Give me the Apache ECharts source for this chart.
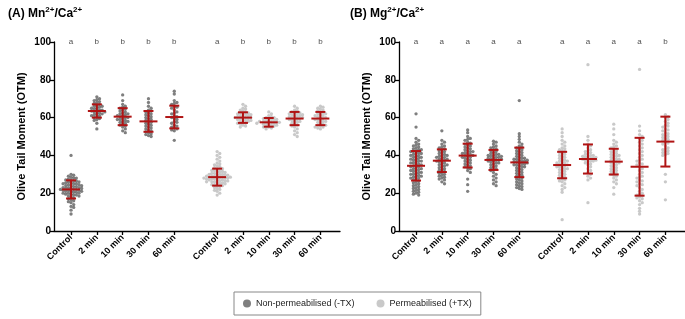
<!DOCTYPE html>
<html>
<head>
<meta charset="utf-8">
<script src="https://cdn.jsdelivr.net/npm/echarts@6/dist/echarts.min.js"></script>
<style>
html, body { margin: 0; padding: 0; background: #fff; }
#chart { width: 685px; height: 319px; }
</style>
</head>
<body>
<div id="chart"></div>
<script>
// 组名 / 刻度标签
const categories = ['Control', '2 min', '10 min', '30 min', '60 min'];
const yTicks = [0, 20, 40, 60, 80, 100];
const lettersA = ['a', 'b', 'b', 'b', 'b', 'a', 'b', 'b', 'b', 'b'];
const lettersB = ['a', 'a', 'a', 'a', 'a', 'a', 'a', 'a', 'a', 'b'];

// (A) Mn2+/Ca2+  非透化 (-TX)
const aNtx = [
    [40, 30, 29.5, 29, 28.5, 28, 28, 27.5, 27, 27, 26.5, 26.5, 26, 26, 25.5, 25.5, 25, 25, 25, 24.5, 24.5, 24, 24, 24, 23.5, 23.5, 23, 23, 23, 22.5, 22.5, 22.5, 22, 22, 22, 21.5, 21.5, 21.5, 21, 21, 21, 20.5, 20.5, 20, 20, 20, 19.5, 19.5, 19, 19, 18.5, 18.5, 18, 17.5, 17, 16.5, 16, 15.5, 15, 14, 13, 12.5, 11, 9],
    [71, 70, 69.5, 69, 68.5, 68, 67.5, 67, 66.5, 66, 66, 65.5, 65, 65, 64.5, 64, 64, 63.5, 63.5, 63, 63, 62.5, 62, 62, 61.5, 61, 61, 60.5, 60, 59.5, 59, 58.5, 57, 54],
    [72, 69, 67, 66, 65.5, 65, 64.5, 64, 63.5, 63, 62.5, 62, 62, 61.5, 61, 61, 60.5, 60, 60, 59.5, 59, 59, 58.5, 58, 58, 57.5, 57, 56.5, 56, 55.5, 55, 54, 53, 52],
    [70, 68, 66, 65, 64, 63.5, 63, 62.5, 62, 61.5, 61, 60.5, 60, 59.5, 59, 58.5, 58, 57.5, 57, 56.5, 56, 55.5, 55, 54.5, 54, 53.5, 53, 52.5, 52, 51.5, 51, 50.5, 50],
    [74, 72.5, 69, 68, 67.5, 67, 66, 65.5, 65, 64, 63, 62.5, 62, 61, 60.5, 60, 59.5, 59, 58, 57.5, 57, 56, 55.5, 55, 54.5, 54, 53.5, 53, 48]
];
// (A) 透化 (+TX)
const aPtx = [
    [42, 41, 40, 39, 38, 37, 36, 35.5, 35, 34.5, 34, 33.5, 33, 33, 32.5, 32, 32, 31.5, 31.5, 31, 31, 30.5, 30.5, 30, 30, 30, 29.5, 29.5, 29.5, 29, 29, 29, 28.5, 28.5, 28.5, 28.5, 28, 28, 28, 28, 27.5, 27.5, 27.5, 27, 27, 27, 26.5, 26.5, 26.5, 26, 26, 26, 25.5, 25.5, 25, 25, 24.5, 24.5, 24, 24, 23.5, 23, 22.5, 22, 21.5, 21, 20, 19],
    [67, 66, 65, 64.5, 64, 63.5, 63, 62.5, 62.5, 62, 62, 61.5, 61.5, 61, 61, 60.5, 60.5, 60, 60, 60, 59.5, 59.5, 59, 59, 58.5, 58.5, 58, 58, 57.5, 57, 57, 56.5, 56, 55.5, 55],
    [63, 62, 61, 60.5, 60, 60, 59.5, 59.5, 59, 59, 58.5, 58.5, 58, 58, 58, 57.5, 57.5, 57.5, 57, 57, 57, 56.5, 56.5, 56, 56, 55.5, 55.5, 55, 55, 54.5, 54],
    [66, 65, 64, 63.5, 63, 62.5, 62.5, 62, 62, 61.5, 61.5, 61, 61, 60.5, 60.5, 60, 60, 59.5, 59.5, 59, 59, 58.5, 58, 58, 57.5, 57, 56.5, 56, 55.5, 55, 54, 53, 52, 51, 50],
    [66, 65.5, 65, 64.5, 64, 63.5, 63, 62.5, 62, 62, 61.5, 61, 61, 60.5, 60, 60, 59.5, 59, 59, 58.5, 58, 58, 57.5, 57, 56.5, 56, 56, 55.5, 55, 55, 54.5, 54]
];
// (B) Mg2+/Ca2+  非透化 (-TX)
const bNtx = [
    [62, 55, 49, 48, 47, 46, 45.5, 45, 44.5, 44, 43.5, 43, 43, 42.5, 42, 42, 41.5, 41, 41, 40.5, 40, 40, 39.5, 39, 39, 38.5, 38, 38, 37.5, 37, 37, 36.5, 36, 36, 35.5, 35, 35, 34.5, 34, 34, 33.5, 33, 33, 32.5, 32, 32, 31.5, 31, 31, 30.5, 30, 30, 29.5, 29, 29, 28.5, 28, 28, 27.5, 27, 26.5, 26, 25.5, 25, 24.5, 24, 23.5, 23, 22.5, 22, 21.5, 21, 20.5, 20, 19.5, 19],
    [53, 48, 47, 46, 45, 44.5, 44, 43.5, 43, 42.5, 42, 41.5, 41, 40.5, 40, 40, 39.5, 39, 39, 38.5, 38, 38, 37.5, 37, 37, 36.5, 36, 35.5, 35, 35, 34.5, 34, 33.5, 33, 32.5, 32, 31.5, 31, 30.5, 30, 29.5, 29, 28.5, 28, 27.5, 27, 26, 25],
    [53.5, 52, 50, 49, 48.5, 48, 47, 46.5, 46, 45.5, 45, 44.5, 44, 43.5, 43, 42.5, 42, 42, 41.5, 41, 41, 40.5, 40, 40, 39.5, 39, 39, 38.5, 38, 37.5, 37, 36.5, 36, 35.5, 35, 34.5, 34, 33.5, 33, 32, 31, 27.5, 24.5, 21],
    [47.5, 47, 46, 45, 44.5, 44, 43.5, 43, 42.5, 42, 41.5, 41, 40.5, 40.5, 40, 40, 39.5, 39.5, 39, 39, 38.5, 38.5, 38, 38, 37.5, 37.5, 37, 37, 36.5, 36, 36, 35.5, 35, 34.5, 34, 33.5, 33, 32.5, 32, 31, 30, 29, 28, 27, 26, 25, 24],
    [69, 51.5, 50, 48.5, 47, 46, 45, 44.5, 44, 43.5, 43, 42.5, 42, 41.5, 41, 40.5, 40, 39.5, 39, 38.5, 38.5, 38, 38, 37.5, 37.5, 37, 37, 36.5, 36.5, 36, 36, 35.5, 35.5, 35, 35, 34.5, 34, 34, 33.5, 33, 32.5, 32, 31.5, 31, 30.5, 30, 29.5, 29, 28.5, 28, 27.5, 27, 26.5, 26, 25.5, 25, 24.5, 24, 23.5, 23, 22.5, 22]
];
// (B) 透化 (+TX)
const bPtx = [
    [54, 52, 50, 48, 47, 46, 45, 44, 43.5, 43, 42.5, 42, 41.5, 41, 40.5, 40, 39.5, 39, 38.5, 38, 37.5, 37, 37, 36.5, 36, 36, 35.5, 35, 35, 34.5, 34, 34, 33.5, 33, 33, 32.5, 32, 31.5, 31, 30.5, 30, 29.5, 29, 28.5, 28, 27.5, 27, 26.5, 26, 25, 24, 23, 22, 20.5, 6],
    [88, 50, 48, 46, 45, 44, 43, 42.5, 42, 41.5, 41, 40.5, 40, 40, 39.5, 39.5, 39, 39, 38.5, 38.5, 38, 38, 37.5, 37.5, 37, 37, 36.5, 36, 35.5, 35, 34, 33, 32, 31, 30, 29, 28, 27, 15],
    [56.5, 54, 51, 48, 47, 46, 45, 44.5, 44, 43, 42.5, 42, 41.5, 41, 40.5, 40, 40, 39.5, 39, 38.5, 38, 38, 37.5, 37, 36.5, 36, 36, 35.5, 35, 34.5, 34, 33.5, 33, 32.5, 32, 31.5, 31, 30.5, 30, 29.5, 29, 28, 27, 26, 25, 23, 19.5],
    [85.5, 55.5, 53, 51, 50, 49, 48, 47, 46, 45, 44, 43, 42, 41, 40, 39, 38, 37.5, 37, 36, 35.5, 35, 34, 33, 32, 31, 30, 29, 28.5, 28, 27, 26.5, 26, 25, 24.5, 24, 23, 22, 21, 20, 19.5, 19, 18.5, 18, 17.5, 17, 16, 15, 14, 12, 10.5, 9],
    [61.5, 60.5, 60, 59, 58, 57, 56, 55.5, 55, 54, 53.5, 53, 52, 51.5, 51, 50.5, 50, 49.5, 49, 48.5, 48, 47, 46.5, 46, 45, 44, 43.5, 43, 42.5, 42, 41.5, 41, 40.5, 40, 30, 26, 16.5]
];

// 均值 ± SD
const meanANtx = [22, 63.5, 60.5, 58, 60.3];
const sdANtx = [4.8, 3.5, 4.5, 5.5, 6];
const meanAPtx = [28.5, 60, 57.5, 59.5, 59.5];
const sdAPtx = [4.5, 2.8, 2.3, 3.5, 3.5];
const meanBNtx = [34.5, 37.2, 39.9, 37.6, 36.3];
const sdBNtx = [7.8, 6, 6.3, 5.3, 7.8];
const meanBPtx = [34.9, 38.1, 36.7, 34, 47.3];
const sdBPtx = [7, 7.7, 6.8, 15.3, 13.2];

const NAME_NTX = 'Non-permeabilised (-TX)';
const NAME_PTX = 'Permeabilised (+TX)';
const C_NTX = '#5f5f5f';
const C_PTX = '#bcbcbc';
const C_BAR = '#b01414';
const FONT = 'Liberation Sans, Arial, sans-serif';

const X_MAX = 11.08;
const GRID_W = 286;
const GRID_H = 189;
const pxX = GRID_W / X_MAX;   // x 方向每单位像素
const pxY = GRID_H / 100;     // y 方向每单位像素
const DOT = 3.3;
const MIN_D = 2.65;           // 蜂群点最小间距（允许部分重叠）

// 组中心位置（x 轴数值）
function groupPos(side, i) {
    return side === 0 ? 0.66 + i : 6.32 + i;
}
const allPos = [];
for (let s = 0; s < 2; s++) for (let i = 0; i < 5; i++) allPos.push(groupPos(s, i));

// 蜂群散点：按 y 排序后逐个找不碰撞的最小横向偏移
function swarm(values, center) {
    const placed = [];
    const sorted = values.slice().sort((a, b) => b - a);
    const out = [];
    const step = MIN_D * 0.5;
    sorted.forEach(v => {
        const py = v * pxY;
        let k = 0, ox = 0;
        while (true) {
            const cand = k === 0 ? 0 : (k % 2 ? 1 : -1) * Math.ceil(k / 2) * step;
            let ok = true;
            for (const p of placed) {
                const dx = p[0] - cand, dy = p[1] - py;
                if (dx * dx + dy * dy < MIN_D * MIN_D) { ok = false; break; }
            }
            if (ok) { ox = cand; break; }
            k++;
        }
        placed.push([ox, py]);
        out.push([center + ox / pxX, v]);
    });
    return out;
}

function scatterSeries(name, groups, side, axisIdx, color) {
    let data = [];
    groups.forEach((g, i) => { data = data.concat(swarm(g, groupPos(side, i))); });
    return {
        name: name,
        type: 'scatter',
        xAxisIndex: axisIdx,
        yAxisIndex: axisIdx,
        symbol: 'circle',
        symbolSize: DOT,
        itemStyle: { color: color },
        silent: true,
        z: 2,
        data: data
    };
}

function errorSeries(means, sds, side, axisIdx) {
    return {
        type: 'custom',
        xAxisIndex: axisIdx,
        yAxisIndex: axisIdx,
        silent: true,
        z: 5,
        data: means.map((m, i) => [groupPos(side, i), m, sds[i]]),
        renderItem: function (params, api) {
            const x = api.value(0), m = api.value(1), sd = api.value(2);
            const pm = api.coord([x, m]);
            const pt = api.coord([x, m + sd]);
            const pb = api.coord([x, m - sd]);
            const style = { stroke: C_BAR, lineWidth: 2 };
            return {
                type: 'group',
                children: [
                    { type: 'line', shape: { x1: pt[0], y1: pt[1], x2: pb[0], y2: pb[1] }, style: style },
                    { type: 'line', shape: { x1: pt[0] - 5, y1: pt[1], x2: pt[0] + 5, y2: pt[1] }, style: style },
                    { type: 'line', shape: { x1: pb[0] - 5, y1: pb[1], x2: pb[0] + 5, y2: pb[1] }, style: style },
                    { type: 'line', shape: { x1: pm[0] - 9, y1: pm[1], x2: pm[0] + 9, y2: pm[1] }, style: style }
                ]
            };
        }
    };
}

function letterSeries(letters, axisIdx) {
    return {
        type: 'scatter',
        xAxisIndex: axisIdx,
        yAxisIndex: axisIdx,
        symbolSize: 1,
        itemStyle: { color: 'transparent' },
        silent: true,
        data: letters.map((l, i) => ({ value: [allPos[i], 100], letter: l })),
        label: {
            show: true,
            position: 'inside',
            formatter: p => p.data.letter,
            color: '#222',
            fontSize: 8,
            fontFamily: FONT
        }
    };
}

function xAxis(gridIdx) {
    return {
        type: 'value',
        gridIndex: gridIdx,
        min: 0,
        max: X_MAX,
        splitLine: { show: false },
        axisLine: { show: true, onZero: false, lineStyle: { color: '#000', width: 1.3 } },
        axisTick: { show: true, length: 4, customValues: allPos, lineStyle: { color: '#000', width: 1.3 } },
        axisLabel: {
            customValues: allPos,
            rotate: 45,
            margin: 5,
            color: '#000',
            fontWeight: 'bold',
            fontSize: 9,
            fontFamily: FONT,
            formatter: function (v) {
                let best = 0;
                allPos.forEach((p, i) => { if (Math.abs(p - v) < Math.abs(allPos[best] - v)) best = i; });
                return categories[best % 5];
            }
        }
    };
}

function yAxis(gridIdx) {
    return {
        type: 'value',
        gridIndex: gridIdx,
        min: yTicks[0],
        max: yTicks[yTicks.length - 1],
        interval: 20,
        name: 'Olive Tail Moment (OTM)',
        nameLocation: 'middle',
        nameGap: 27,
        nameTextStyle: { color: '#000', fontWeight: 'bold', fontSize: 11, fontFamily: FONT },
        splitLine: { show: false },
        axisLine: { show: true, lineStyle: { color: '#000', width: 1.3 } },
        axisTick: { show: true, length: 4, lineStyle: { color: '#000', width: 1.3 } },
        axisLabel: { color: '#000', fontWeight: 'bold', fontSize: 10, margin: 3, fontFamily: FONT }
    };
}

function titleRich(letter, ion) {
    return {
        text: '{b|(' + letter + ') ' + ion + '}{s|2+}{b|/Ca}{s|2+}',
        textStyle: {
            rich: {
                b: { fontWeight: 'bold', fontSize: 12, color: '#000', fontFamily: FONT, lineHeight: 16 },
                s: { fontWeight: 'bold', fontSize: 8, color: '#000', fontFamily: FONT, verticalAlign: 'top', lineHeight: 12 }
            }
        }
    };
}

const chart = echarts.init(document.getElementById('chart'), null, { renderer: 'canvas' });
const option = {
    animation: false,
    backgroundColor: '#fff',
    title: [
        Object.assign({ left: 3, top: 1 }, titleRich('A', 'Mn')),
        Object.assign({ left: 345, top: 1 }, titleRich('B', 'Mg'))
    ],
    legend: {
        left: 234,
        top: 292,
        data: [NAME_NTX, NAME_PTX],
        icon: 'circle',
        itemWidth: 8,
        itemHeight: 8,
        itemGap: 22,
        padding: [7, 9, 7, 9],
        borderColor: '#888',
        borderWidth: 1,
        borderRadius: 0,
        textStyle: { color: '#222', fontSize: 9, fontFamily: FONT },
        selectedMode: false
    },
    grid: [
        { left: 54, top: 42, width: GRID_W, height: GRID_H },
        { left: 399, top: 42, width: GRID_W, height: GRID_H }
    ],
    xAxis: [xAxis(0), xAxis(1)],
    yAxis: [yAxis(0), yAxis(1)],
    series: [
        scatterSeries(NAME_NTX, aNtx, 0, 0, C_NTX),
        scatterSeries(NAME_PTX, aPtx, 1, 0, C_PTX),
        scatterSeries(NAME_NTX, bNtx, 0, 1, C_NTX),
        scatterSeries(NAME_PTX, bPtx, 1, 1, C_PTX),
        errorSeries(meanANtx, sdANtx, 0, 0),
        errorSeries(meanAPtx, sdAPtx, 1, 0),
        errorSeries(meanBNtx, sdBNtx, 0, 1),
        errorSeries(meanBPtx, sdBPtx, 1, 1),
        letterSeries(lettersA, 0),
        letterSeries(lettersB, 1)
    ]
};
chart.setOption(option);
</script>
</body>
</html>
